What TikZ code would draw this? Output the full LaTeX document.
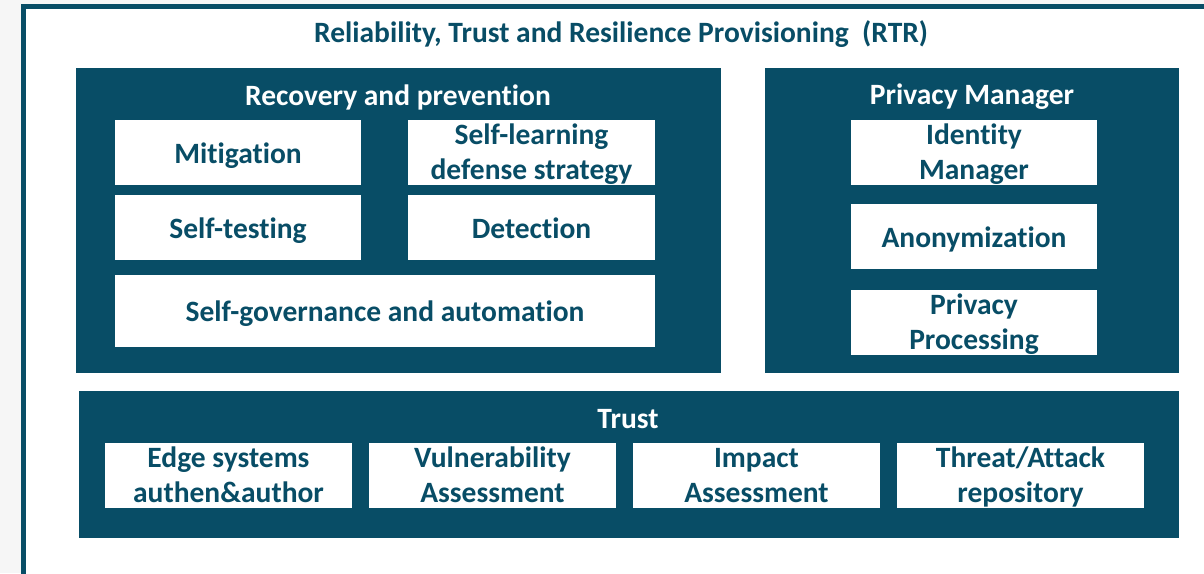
\documentclass[tikz,border=0pt]{standalone}
\usepackage{fontspec}
\setmainfont{Carlito}[Ligatures = NoCommon]

\definecolor{rtrteal}{RGB}{8,77,102}
\definecolor{rtrback}{RGB}{246,246,246}

% Two lines of a white box, with struts above and below
\newcommand{\twolines}[2]{\rule{0pt}{24.25pt}#1\\\smash{#2}\rule[-5.75pt]{0pt}{5.75pt}}

\begin{document}
\begin{tikzpicture}[x = 1pt, y = -1pt,
	every node/.style = {font = \fontsize{29.5}{35}\selectfont\bfseries, align = center, inner sep = 0pt},
	panel/.style = {fill = rtrteal, minimum height = 305pt},
	paneltitle/.style = {text = white},
	box/.style = {fill = white, text = rtrteal, minimum width = 246pt, minimum height = 65pt},
	oneline/.style = {box, execute at begin node = {\rule{0pt}{29.5pt}}, execute at end node = {\rule[-8.5pt]{0pt}{8.5pt}}}]

	% Page and outer frame

	\useasboundingbox (0, 0) rectangle (1204, 573);
	\fill [rtrback] (0, 0) rectangle (1204, 573);
	\draw [rtrteal, line width = 5pt, fill = white] (23.5, 6.5) rectangle (1240, 610);

	\node [text = rtrteal] (rtr) at (621, 34) {Reliability, Trust and Resilience Provisioning\ \ (RTR)};

	% Recovery and prevention

	\node [panel, minimum width = 645pt] (recovery) at (398.5, 220.5) {};
	\node [paneltitle] (recoverytitle) at (398, 97) {Recovery and prevention};

	\node [oneline] (mitigation) at (238, 152.5) {Mitigation};
	\node [box, minimum width = 247pt] (selflearning) at (531.5, 152.5) {\twolines{Self-learning}{defense strategy}};
	\node [oneline] (selftesting) at (238, 227.5) {Self-testing};
	\node [oneline, minimum width = 247pt] (detection) at (531.5, 227.5) {Detection};
	\node [oneline, minimum width = 540pt, minimum height = 72pt] (governance) at (385, 311) {Self-governance and automation};

	% Privacy manager

	\node [panel, minimum width = 414pt] (privacy) at (972, 220.5) {};
	\node [paneltitle] (privacytitle) at (972, 97) {Privacy Manager};

	\node [box] (identity) at (974, 152.5) {\twolines{Identity}{Manager}};
	\node [oneline] (anonymization) at (974, 236.5) {Anonymization};
	\node [box] (processing) at (974, 322.5) {\twolines{Privacy}{Processing}};

	% Trust

	\node [panel, minimum width = 1100pt, minimum height = 147pt] (trust) at (629, 464.5) {};
	\node [paneltitle] (trusttitle) at (628, 419) {Trust};

	\begin{scope}[every node/.append style = {box, minimum width = 247pt}]

		\node (edge) at (228.5, 475.5) {\twolines{Edge systems}{authen\&author}};
		\node (vulnerability) at (492.5, 475.5) {\twolines{Vulnerability}{Assessment}};
		\node (impact) at (756.5, 475.5) {\twolines{Impact}{Assessment}};
		\node (threat) at (1020.5, 475.5) {\twolines{Threat/Attack}{repository}};

	\end{scope}

\end{tikzpicture}
\end{document}
